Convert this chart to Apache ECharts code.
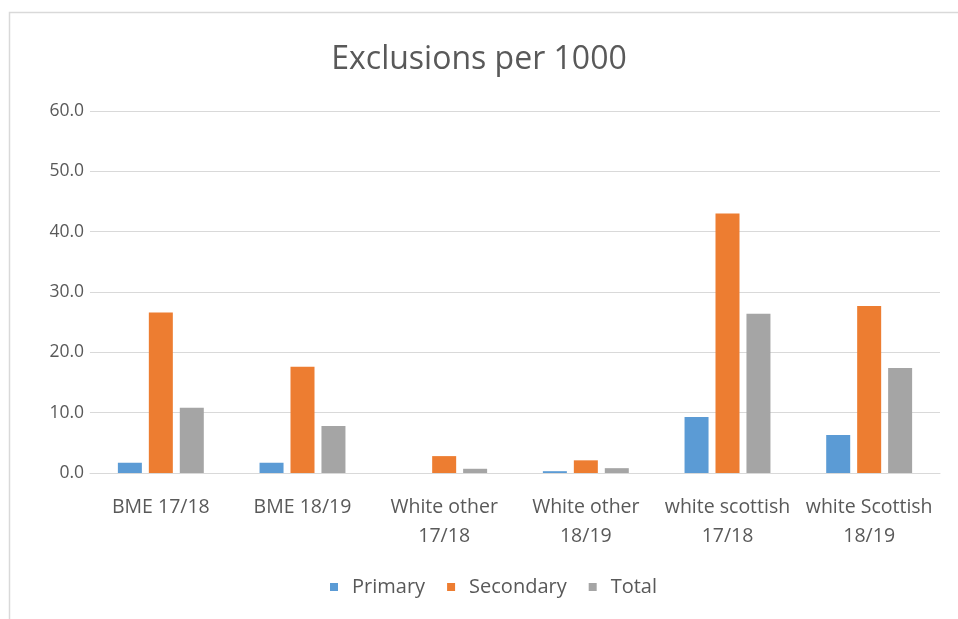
<!DOCTYPE html>
<html>
<head>
<meta charset="utf-8">
<script src="https://cdn.jsdelivr.net/npm/echarts@6/dist/echarts.min.js"></script>
<style>
  html, body { margin: 0; padding: 0; background: #fff; }
  #chart { width: 958px; height: 619px; }
</style>
</head>
<body>
<div id="chart"></div>
<script>
// Exclusion rates per 1000 pupils, by group and school year
const categories = ['BME 17/18', 'BME 18/19', 'White other\n17/18', 'White other\n18/19', 'white scottish\n17/18', 'white Scottish\n18/19'];
const primary = [1.7, 1.7, 0.0, 0.3, 9.3, 6.3];
const secondary = [26.6, 17.6, 2.8, 2.1, 43.0, 27.7];
const total = [10.8, 7.8, 0.7, 0.8, 26.4, 17.4];
const seriesNames = ['Primary', 'Secondary', 'Total'];
const seriesColors = ['#5B9BD5', '#ED7D31', '#A5A5A5'];

const FONT = 'Open Sans';
const TEXT = '#595959';

const chart = echarts.init(document.getElementById('chart'), null, { renderer: 'canvas' });

const barSeries = [primary, secondary, total].map((values, i) => ({
  name: seriesNames[i],
  type: 'bar',
  data: values,
  barWidth: 24,
  barGap: '29%',
  itemStyle: { color: seriesColors[i] }
}));

chart.setOption({
  animation: false,
  backgroundColor: '#fff',
  graphic: [{
    type: 'rect',
    shape: { x: 9.5, y: 12.5, width: 960, height: 620 },
    style: { fill: 'none', stroke: '#D9D9D9', lineWidth: 1.5 },
    silent: true
  }],
  title: {
    text: 'Exclusions per 1000',
    left: 'center',
    top: 39,
    textStyle: { fontFamily: FONT, fontSize: 32, fontWeight: 'normal', color: TEXT }
  },
  legend: {
    data: seriesNames,
    bottom: 17,
    left: 325,
    itemWidth: 8,
    itemHeight: 8,
    itemGap: 22,
    icon: 'rect',
    textStyle: { fontFamily: FONT, fontSize: 20, color: TEXT, padding: [0, 0, 0, 9] }
  },
  grid: { left: 90, right: 18, top: 111, bottom: 146 },
  xAxis: {
    type: 'category',
    data: categories,
    axisTick: { show: false },
    axisLine: { lineStyle: { color: '#D9D9D9', width: 1 } },
    axisLabel: {
      interval: 0,
      margin: 20,
      fontFamily: FONT,
      fontSize: 19.5,
      lineHeight: 29,
      color: TEXT
    }
  },
  yAxis: {
    type: 'value',
    min: 0,
    max: 60,
    interval: 10,
    axisLine: { show: false },
    axisTick: { show: false },
    splitLine: { lineStyle: { color: '#D9D9D9', width: 1 } },
    axisLabel: {
      margin: 6,
      fontFamily: FONT,
      fontSize: 17.5,
      color: TEXT,
      formatter: v => v.toFixed(1)
    }
  },
  series: barSeries
});
</script>
</body>
</html>
